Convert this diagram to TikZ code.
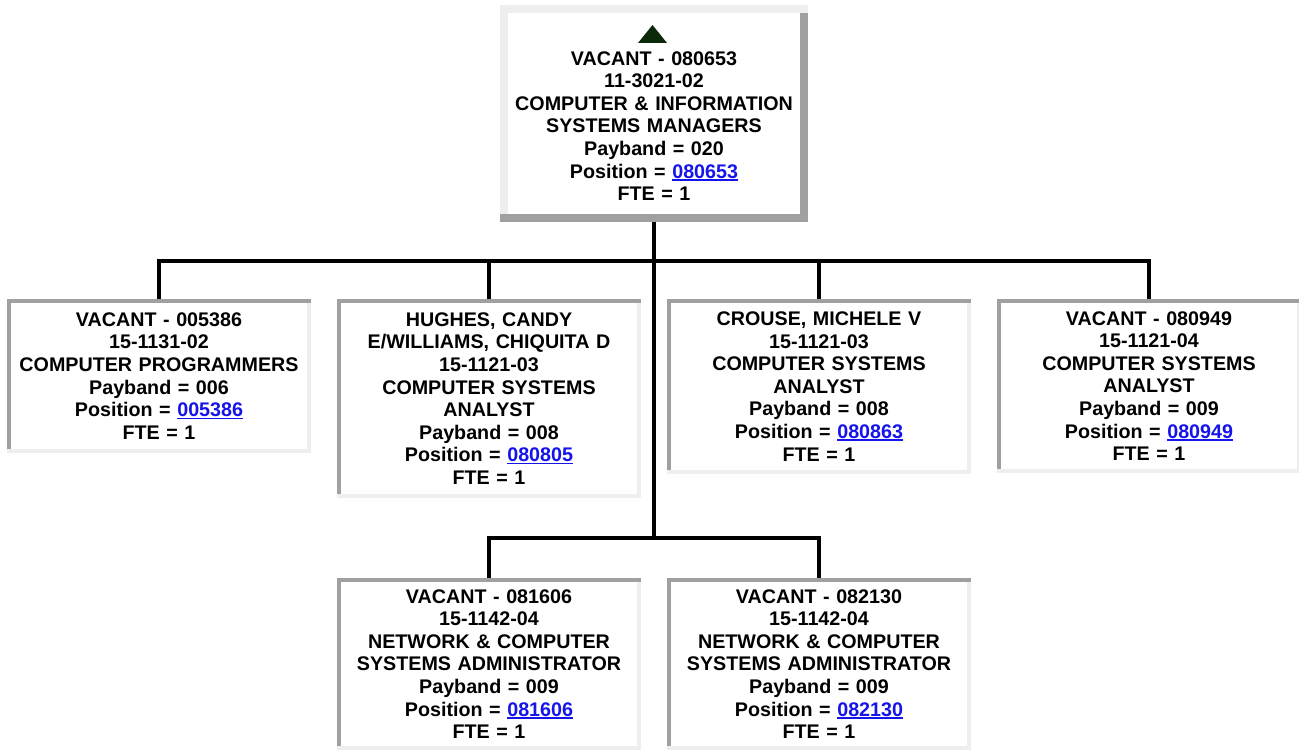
\documentclass[tikz,border=0pt]{standalone}
\usepackage{fontspec}
\setmainfont{Liberation Sans}
\usepackage{tikz}
\usetikzlibrary{positioning,backgrounds,calc}
\usepackage{xcolor}
\definecolor{edgedark}{RGB}{160,160,160}
\definecolor{edgelight}{RGB}{238,238,238}
\definecolor{linkblue}{RGB}{20,20,235}
\definecolor{markgreen}{RGB}{10,42,10}
\newcommand{\poslink}[1]{\textcolor{linkblue}{\setbox0\hbox{#1}\rlap{\rule[-2.6pt]{\wd0}{1.7pt}}\box0}}
\newcommand{\sunkenedge}[1]{\draw[edgedark, line width=4pt] ([yshift=2pt]#1.south west) -- (#1.north west) -- ([xshift=2pt]#1.north east);}
\newcommand{\raisededge}[1]{\draw[edgelight, line width=8pt] ([yshift=4pt]#1.south west) -- (#1.north west) -- ([xshift=4pt]#1.north east);}
\tikzset{
  posbox/.style={rectangle, draw=edgelight, line width=4pt, fill=white, outer sep=0pt, inner sep=0pt,
                 minimum width=300pt, text width=298pt, align=center,
                 font=\bfseries\fontsize{19.7pt}{22.6pt}\selectfont},
  headbox/.style={posbox, draw=edgedark, line width=8pt},
  conn/.style={line width=4pt, black},
}
\begin{document}
\begin{tikzpicture}[x=1pt, y=-1pt]
\useasboundingbox (0,0) rectangle (1299,751);

\node[headbox, minimum height=209pt] (head) at (654,113.5)
  {\rule{0pt}{38.8pt}VACANT - 080653\\ 11-3021-02\\ COMPUTER \& INFORMATION\\ SYSTEMS MANAGERS\\
   Payband = 020\\ Position = \poslink{080653}\\ FTE = 1};
\fill[markgreen] (638,43) -- (652.5,25) -- (667,43) -- cycle;

\node[posbox, minimum height=150pt, anchor=north] (p005386) at (159,301)
  {VACANT - 005386\\ 15-1131-02\\ COMPUTER PROGRAMMERS\\ Payband = 006\\ Position = \poslink{005386}\\ FTE = 1};
\node[posbox, minimum height=195pt, anchor=north] (p080805) at (489,301)
  {HUGHES, CANDY\\ E/WILLIAMS, CHIQUITA D\\ 15-1121-03\\ COMPUTER SYSTEMS\\ ANALYST\\
   Payband = 008\\ Position = \poslink{080805}\\ FTE = 1};
\node[posbox, minimum height=171pt, anchor=north] (p080863) at (819,301)
  {CROUSE, MICHELE V\\ 15-1121-03\\ COMPUTER SYSTEMS\\ ANALYST\\ Payband = 008\\ Position = \poslink{080863}\\ FTE = 1};
\node[posbox, minimum height=170pt, anchor=north] (p080949) at (1149,301)
  {VACANT - 080949\\ 15-1121-04\\ COMPUTER SYSTEMS\\ ANALYST\\ Payband = 009\\ Position = \poslink{080949}\\ FTE = 1};
\node[posbox, minimum height=168pt, anchor=north] (p081606) at (489,580)
  {VACANT - 081606\\ 15-1142-04\\ NETWORK \& COMPUTER\\ SYSTEMS ADMINISTRATOR\\ Payband = 009\\ Position = \poslink{081606}\\ FTE = 1};
\node[posbox, minimum height=168pt, anchor=north] (p082130) at (819,580)
  {VACANT - 082130\\ 15-1142-04\\ NETWORK \& COMPUTER\\ SYSTEMS ADMINISTRATOR\\ Payband = 009\\ Position = \poslink{082130}\\ FTE = 1};

% box edges
\raisededge{head}
\foreach \n in {p005386, p080805, p080863, p080949, p081606, p082130}
  {\sunkenedge{\n}}

% connectors
\begin{scope}[on background layer]
\fill[white] (0,0) rectangle (1299,751);
\foreach \n in {p005386, p080805, p080863, p080949}
  \draw[conn] (head.south) -- ++(0,43) -| (\n.north);
\foreach \n in {p081606, p082130}
  \draw[conn] (head.south) -- ++(0,320) -| (\n.north);
\end{scope}
\end{tikzpicture}
\end{document}
